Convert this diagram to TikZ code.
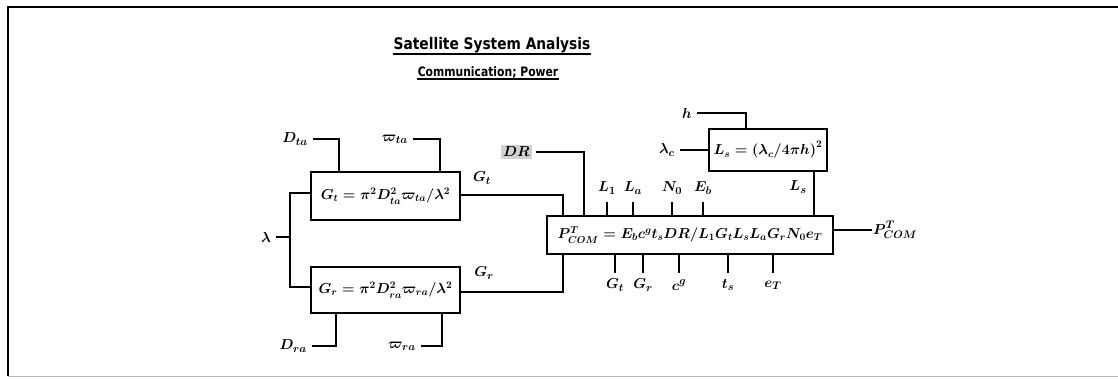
\documentclass[tikz,border=0pt]{standalone}
\usepackage{fontspec}
\usetikzlibrary{calc}
\newfontfamily\titlefont{DejaVu Sans}
\begin{document}
\begin{tikzpicture}[x=1pt,y=-1pt,
  wire/.style={line width=1.8pt},
  labwire/.style={line width=1.8pt,shorten <=4pt},
  box/.style={draw,line width=1.8pt,inner sep=0pt,font=\fontsize{14.2}{16}\selectfont\boldmath},
  lab/.style={inner sep=1pt,font=\fontsize{15}{17}\selectfont\boldmath},
  ttl/.style={inner sep=1pt,font=\titlefont\bfseries}]
\useasboundingbox (0,0) rectangle (1118,378);
% frame
\draw[line width=2pt] (1118,7) -- (8,7) -- (8,376);
\draw[gray!55,line width=1pt] (8,376) -- (1118,376);
% titles
\node[ttl,font=\titlefont\bfseries\fontsize{16}{18}\selectfont] (t1) at (492,45) {\scalebox{0.86}[1]{Satellite System Analysis}};
\draw[line width=1.5pt] (t1.south west) -- (t1.south east);
\node[ttl,font=\titlefont\bfseries\fontsize{13}{15}\selectfont] (t2) at (488,72) {\scalebox{0.83}[1]{Communication; Power}};
\draw[line width=1.3pt] (t2.south west) -- (t2.south east);
% boxes
\node[box,minimum width=149pt,minimum height=48pt] (gt) at (385.5,196) {$G_t = \pi^2 D_{ta}^2 \varpi_{ta} / \lambda^2$};
\node[box,minimum width=149pt,minimum height=46pt] (gr) at (385.5,290) {$G_r = \pi^2 D_{ra}^2 \varpi_{ra} / \lambda^2$};
\node[box,minimum width=286pt,minimum height=38pt] (main) at (690,235) {$P^{T}_{COM} = E_b c^g t_s DR / L_1 G_t L_s L_a G_r N_0 e_T$};
\node[box,minimum width=118pt,minimum height=42pt] (ls) at (768,150) {$L_s = \left(\lambda_c/4\pi h\right)^2$};
% inputs to Gt
\node[lab,anchor=east] (dta) at (309,139) {$D_{ta}$};
\draw[labwire] (dta.east) -| ($(gt.north west)+(29,0)$);
\node[lab,anchor=east] (wta) at (409,139) {$\varpi_{ta}$};
\draw[labwire] (wta.east) -| ($(gt.north west)+(130,0)$);
% inputs to Gr
\node[lab,anchor=east] (dra) at (308,346) {$D_{ra}$};
\draw[labwire] (dra.east) -| ($(gr.south west)+(26,0)$);
\node[lab,anchor=east] (wra) at (417,346) {$\varpi_{ra}$};
\draw[labwire] (wra.east) -| ($(gr.south west)+(132,0)$);
% lambda bus
\node[lab,anchor=east] (lam) at (272,237) {$\lambda$};
\coordinate (bus) at (290,237);
\draw[labwire] (lam.east) -- (bus);
\draw[wire] ($(gt.west)+(0,-3)$) -| (bus) |- ($(gr.west)+(0,-3)$);
% Gt, Gr outputs
\draw[wire] ($(gt.east)+(0,-1)$) -| ($(main.north west)+(17,0)$);
\node[lab] (gtl) at (482,178) {$G_t$};
\draw[wire] ($(gr.east)+(0,2)$) -| ($(main.south west)+(17,0)$);
\node[lab] (grl) at (484,273) {$G_r$};
% DR
\node[lab,fill=gray!35,anchor=east,inner sep=2pt] (dr) at (532,152) {$DR$};
\draw[labwire] (dr.east) -| ($(main.north west)+(38,0)$);
% top ticks
\foreach \x/\t/\n in {607/L_1/a,633/L_a/b,672/N_0/c,703/E_b/d}{
  \node[lab] (top\n) at (\x,188) {$\t$};
  \draw[wire] (\x,202) -- (top\n |- main.north);
}
% Ls box inputs
\node[lab,anchor=east] (hl) at (693,113) {$h$};
\draw[labwire] (hl.east) -| ($(ls.north west)+(38,0)$);
\node[lab,anchor=east] (lc) at (676,150) {$\lambda_c$};
\draw[labwire] (lc.east) -- (ls.west);
\draw[wire] ($(ls.south east)+(-14,0)$) -- ($(main.north east)+(-20,0)$);
\node[lab] (lsl) at (798,187) {$L_s$};
% bottom ticks
\foreach \x/\t/\n in {615/G_t/a,643/G_r/b,679/c^g/c,728/t_s/d,773/e_T/e}{
  \node[lab] (bot\n) at (\x,285) {$\t$};
  \draw[wire] (\x,273) -- (bot\n |- main.south);
}
% output
\node[lab,anchor=west] (pout) at (872,230) {$P^{T}_{COM}$};
\draw[wire] (main.east |- pout.west) -- (pout.west);
\end{tikzpicture}
\end{document}
